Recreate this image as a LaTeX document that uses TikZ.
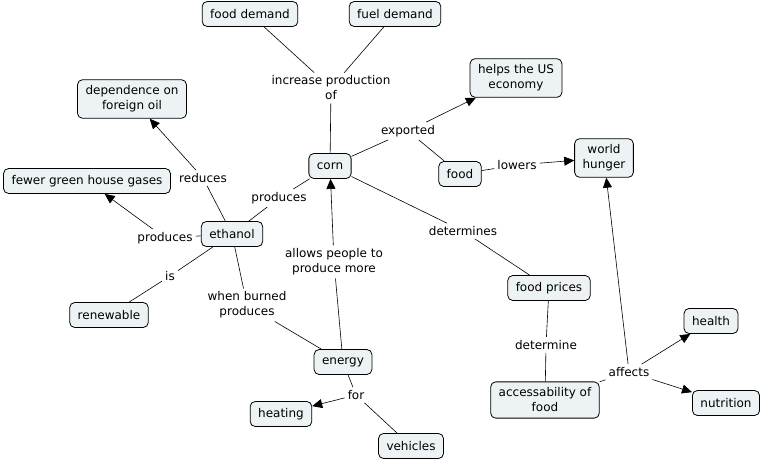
\documentclass[tikz,border=0pt]{standalone}
\usepackage{fontspec}
\setmainfont{DejaVu Sans}
\usetikzlibrary{arrows.meta}
\definecolor{boxfill}{HTML}{EDF3F5}
\begin{document}
\begin{tikzpicture}[x=1pt,y=-1pt,
  font=\fontsize{12}{15}\selectfont,
  concept/.style={draw, fill=boxfill, rounded corners=5pt, align=center,
    inner xsep=8pt, inner ysep=6pt, minimum height=25pt, line width=0.8pt},
  phrase/.style={align=center, inner sep=3pt},
  link/.style={line width=0.6pt},
  arr/.style={link, -{Triangle[length=10pt,width=9pt]}}]
\useasboundingbox (0,0) rectangle (761,460);
% concepts
\node[concept] (fooddemand) at (250,14) {food demand};
\node[concept] (fueldemand) at (395,14) {fuel demand};
\node[concept] (dependence) at (132,99) {dependence on\\foreign oil};
\node[concept] (helps) at (516,78) {helps the US\\economy};
\node[concept] (corn) at (330,166) {corn};
\node[concept] (food) at (460,174) {food};
\node[concept] (hunger) at (604,158) {world\\hunger};
\node[concept] (fewer) at (87,181) {fewer green house gases};
\node[concept] (ethanol) at (232,234) {ethanol};
\node[concept] (renewable) at (109,315) {renewable};
\node[concept] (prices) at (549,288) {food prices};
\node[concept] (health) at (711,321) {health};
\node[concept] (energy) at (343,362) {energy};
\node[concept] (access) at (545,400) {accessability of\\food};
\node[concept] (nutrition) at (726,403) {nutrition};
\node[concept] (heating) at (281,414) {heating};
\node[concept] (vehicles) at (411,446) {vehicles};
% linking phrases
\node[phrase] (incr) at (331,88) {increase production\\of};
\node[phrase] (exported) at (408,131) {exported};
\node[phrase] (lowers) at (517,165) {lowers};
\node[phrase] (reduces) at (203,178) {reduces};
\node[phrase] (prod1) at (279,198) {produces};
\node[phrase] (prod2) at (165,238) {produces};
\node[phrase] (determines) at (463,231) {determines};
\node[phrase] (allows) at (334,262) {allows people to\\produce more};
\node[phrase] (is) at (170,276) {is};
\node[phrase] (burned) at (247,305) {when burned\\produces};
\node[phrase] (determine) at (546,345) {determine};
\node[phrase] (affects) at (629,372) {affects};
\node[phrase] (for) at (356,395) {for};
% connectors
\draw[link] (fooddemand) -- (incr);
\draw[link] (fueldemand) -- (incr);
\draw[link] (incr) -- (corn);
\draw[link] (corn) -- (exported);
\draw[arr] (exported) -- (helps);
\draw[link] (exported) -- (food);
\draw[link] (food) -- (lowers);
\draw[arr] (lowers) -- (hunger);
\draw[link] (ethanol) -- (reduces);
\draw[arr] (reduces) -- (dependence);
\draw[link] (ethanol) -- (prod2);
\draw[arr] (prod2) -- (fewer);
\draw[link] (ethanol) -- (prod1);
\draw[link] (prod1) -- (corn);
\draw[link] (corn) -- (determines);
\draw[link] (determines) -- (prices);
\draw[link] (energy) -- (allows);
\draw[arr] (allows) -- (corn);
\draw[link] (ethanol) -- (is);
\draw[link] (is) -- (renewable);
\draw[link] (ethanol) -- (burned);
\draw[link] (burned) -- (energy);
\draw[link] (energy) -- (for);
\draw[arr] (for) -- (heating);
\draw[link] (for) -- (vehicles);
\draw[link] (prices) -- (determine);
\draw[link] (determine) -- (access);
\draw[link] (access) -- (affects);
\draw[arr] (affects) -- (hunger);
\draw[arr] (affects) -- (health);
\draw[arr] (affects) -- (nutrition);
\end{tikzpicture}
\end{document}
